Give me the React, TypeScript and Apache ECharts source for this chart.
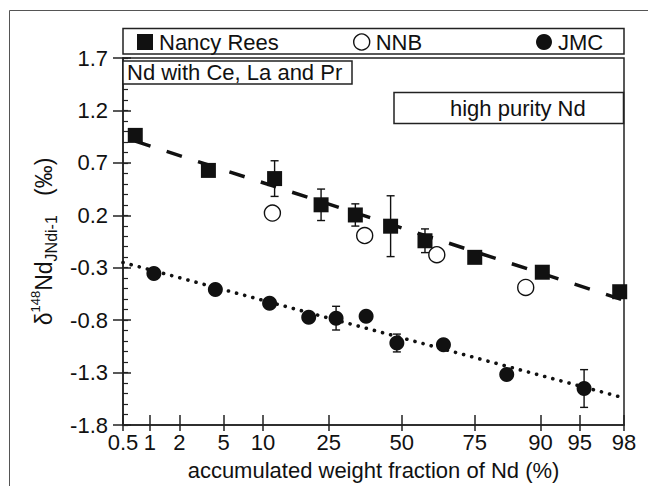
import React, { useEffect, useRef } from "react";
import * as echarts from "echarts";

// ---- data (x in % accumulated weight fraction, y in per mil) ----
const xTickLabels = ["0.5", "1", "2", "5", "10", "25", "50", "75", "90", "95", "98"];
const yTickValues = [-1.8, -1.3, -0.8, -0.3, 0.2, 0.7, 1.2, 1.7];

const nancyX = [0.69, 3.7, 12.0, 22.8, 33.4, 45.9, 58.5, 75.0, 90.3, 97.8];
const nancyY = [0.962, 0.628, 0.55, 0.3, 0.203, 0.096, -0.043, -0.201, -0.343, -0.529];
const nancyErr = [0, 0, 0.17, 0.15, 0.106, 0.29, 0.113, 0, 0, 0];

const nnbX = [11.6, 36.6, 62.7, 87.4];
const nnbY = [0.221, 0.007, -0.176, -0.488];

const jmcX = [1.1, 4.25, 11.1, 19.5, 27.2, 37.1, 48.2, 65.0, 83.4, 95.4];
const jmcY = [-0.356, -0.507, -0.639, -0.772, -0.781, -0.762, -1.018, -1.034, -1.318, -1.452];
const jmcErr = [0, 0, 0, 0, 0.113, 0, 0.085, 0, 0, 0.18];

const nancyTrendX = [0.69, 98];
const nancyTrendY = [0.907, -0.61];
const jmcTrendX = [0.5, 98];
const jmcTrendY = [-0.25, -1.542];

const FONT = "'Liberation Sans', Arial, sans-serif";
const INK = "#111";

// inverse standard normal CDF (Acklam)
function probit(p: number): number {
  const a = [-3.969683028665376e1, 2.209460984245205e2, -2.759285104469687e2, 1.38357751867269e2, -3.066479806614716e1, 2.506628277459239];
  const b = [-5.447609879822406e1, 1.615858368580409e2, -1.556989798598866e2, 6.680131188771972e1, -1.328068155288572e1];
  const c = [-7.784894002430293e-3, -3.223964580411365e-1, -2.400758277161838, -2.549732539343734, 4.374664141464968, 2.938163982698783];
  const d = [7.784695709041462e-3, 3.224671290700398e-1, 2.445134137142996, 3.754408661907416];
  const plow = 0.02425;
  if (p < plow) {
    const q = Math.sqrt(-2 * Math.log(p));
    return (((((c[0] * q + c[1]) * q + c[2]) * q + c[3]) * q + c[4]) * q + c[5]) / ((((d[0] * q + d[1]) * q + d[2]) * q + d[3]) * q + 1);
  }
  if (p <= 1 - plow) {
    const q = p - 0.5;
    const r = q * q;
    return ((((((a[0] * r + a[1]) * r + a[2]) * r + a[3]) * r + a[4]) * r + a[5]) * q) / (((((b[0] * r + b[1]) * r + b[2]) * r + b[3]) * r + b[4]) * r + 1);
  }
  const q = Math.sqrt(-2 * Math.log(1 - p));
  return -(((((c[0] * q + c[1]) * q + c[2]) * q + c[3]) * q + c[4]) * q + c[5]) / ((((d[0] * q + d[1]) * q + d[2]) * q + d[3]) * q + 1);
}
const pz = (pct: number) => probit(pct / 100);

const xTickZ = xTickLabels.map((s) => pz(parseFloat(s)));
const X_MIN = xTickZ[0];
const X_MAX = xTickZ[xTickZ.length - 1];
const yMinor: number[] = [];
for (let i = 0; i <= 35; i++) yMinor.push(Math.round((-1.8 + 0.1 * i) * 10) / 10);

function pts(xs: number[], ys: number[]) {
  return xs.map((x, i) => [pz(x), ys[i]]);
}
function errPts(xs: number[], ys: number[], es: number[]) {
  return xs.map((x, i) => [pz(x), ys[i], es[i]]).filter((d) => d[2] > 0);
}

const errRender = (params: any, api: any) => {
  const x = api.value(0);
  const y = api.value(1);
  const e = api.value(2);
  const t = api.coord([x, y + e]);
  const b = api.coord([x, y - e]);
  const hw = 4;
  const st = { stroke: INK, lineWidth: 1.4 };
  return {
    type: "group",
    children: [
      { type: "line", shape: { x1: t[0], y1: t[1], x2: b[0], y2: b[1] }, style: st },
      { type: "line", shape: { x1: t[0] - hw, y1: t[1], x2: t[0] + hw, y2: t[1] }, style: st },
      { type: "line", shape: { x1: b[0] - hw, y1: b[1], x2: b[0] + hw, y2: b[1] }, style: st },
    ],
  };
};

export default function App() {
  const ref = useRef<HTMLDivElement>(null);
  useEffect(() => {
    if (!ref.current) return;
    const chart = echarts.init(ref.current, null, { renderer: "svg" });
    const labelFor = (v: number) => {
      for (let i = 0; i < xTickZ.length; i++) if (Math.abs(xTickZ[i] - v) < 1e-6) return xTickLabels[i];
      return "";
    };
    const legendCommon = {
      top: 31,
      padding: 0,
      itemWidth: 16,
      itemHeight: 16,
      itemGap: 6,
      selectedMode: false,
      textStyle: { fontSize: 22, color: INK, fontFamily: FONT, padding: [0, 0, 0, 1] },
    };
    const tickLine = { color: "#222", width: 1.5 };
    chart.setOption({
      animation: false,
      backgroundColor: "#fff",
      grid: {
        left: 123,
        right: 24,
        top: 58,
        bottom: 58,
        show: true,
        borderColor: "#222",
        borderWidth: 1.5,
        backgroundColor: "transparent",
      },
      legend: [
        { ...legendCommon, left: 137, data: [{ name: "Nancy Rees", icon: "rect", itemStyle: { color: INK, opacity: 1 } }] },
        {
          ...legendCommon,
          left: 353,
          data: [{ name: "NNB", icon: "circle", itemStyle: { color: "#fff", borderColor: INK, borderWidth: 1.4, opacity: 1 } }],
        },
        { ...legendCommon, left: 536, data: [{ name: "JMC", icon: "circle", itemStyle: { color: INK, opacity: 1 } }] },
      ],
      xAxis: [
        {
          type: "value",
          min: X_MIN,
          max: X_MAX,
          position: "bottom",
          axisLine: { show: true, onZero: false, lineStyle: { color: "#222", width: 1.5 } },
          axisTick: { show: true, inside: false, length: 6, customValues: xTickZ, lineStyle: tickLine },
          axisLabel: {
            show: true,
            customValues: xTickZ,
            formatter: (v: number) => labelFor(v),
            fontSize: 22,
            color: INK,
            fontFamily: FONT,
            margin: 6,
          },
          splitLine: { show: false },
          name: "accumulated weight fraction of Nd (%)",
          nameLocation: "middle",
          nameGap: 34,
          nameTextStyle: { fontSize: 22, color: INK, fontFamily: FONT },
        },
        {
          type: "value",
          min: X_MIN,
          max: X_MAX,
          position: "bottom",
          axisLine: { show: false, onZero: false },
          axisTick: { show: true, inside: true, length: 10, customValues: xTickZ, lineStyle: tickLine },
          axisLabel: { show: false },
          splitLine: { show: false },
        },
      ],
      yAxis: [
        {
          type: "value",
          min: -1.8,
          max: 1.7,
          position: "left",
          axisLine: { show: true, onZero: false, lineStyle: { color: "#222", width: 1.5 } },
          axisTick: { show: true, inside: false, length: 10, customValues: yTickValues, lineStyle: tickLine },
          axisLabel: {
            show: true,
            customValues: yTickValues,
            formatter: (v: number) => v.toFixed(1),
            fontSize: 22,
            color: INK,
            fontFamily: FONT,
            margin: 15,
          },
          splitLine: { show: false },
          name: "{m|δ}{sup|148}{m|Nd}{sub|JNdi-1}{m|   (‰)}",
          nameLocation: "middle",
          nameGap: 58,
          nameTextStyle: {
            fontFamily: FONT,
            color: INK,
            rich: {
              m: { fontSize: 23, lineHeight: 30, verticalAlign: "middle", fontFamily: FONT, color: INK },
              sup: { fontSize: 13, lineHeight: 14, verticalAlign: "top", fontFamily: FONT, color: INK },
              sub: { fontSize: 16, lineHeight: 16, verticalAlign: "bottom", fontFamily: FONT, color: INK },
            },
          },
        },
        {
          type: "value",
          min: -1.8,
          max: 1.7,
          position: "left",
          offset: 0,
          axisLine: { show: false, onZero: false },
          axisTick: { show: true, inside: true, length: 8, customValues: yTickValues, lineStyle: tickLine },
          axisLabel: { show: false },
          splitLine: { show: false },
        },
        {
          type: "value",
          min: -1.8,
          max: 1.7,
          position: "left",
          offset: 0,
          axisLine: { show: false, onZero: false },
          axisTick: { show: true, inside: true, length: 5, customValues: yMinor, lineStyle: { color: "#222", width: 1.2 } },
          axisLabel: { show: false },
          splitLine: { show: false },
        },
      ],
      graphic: [
        {
          type: "rect",
          shape: { x: 9.5, y: 10.5, width: 800, height: 800 },
          style: { fill: "none", stroke: "#555", lineWidth: 1 },
          silent: true,
        },
        {
          type: "rect",
          shape: { x: 123, y: 28.5, width: 501, height: 25.5 },
          style: { fill: "none", stroke: "#222", lineWidth: 1.5 },
          silent: true,
        },
        {
          type: "rect",
          shape: { x: 123, y: 61, width: 229, height: 23 },
          style: { fill: "#fff", stroke: "#222", lineWidth: 1.5 },
          silent: true,
          z: 10,
        },
        {
          type: "text",
          x: 127,
          y: 72.5,
          style: { text: "Nd with Ce, La and Pr", fontSize: 22, fontFamily: FONT, fill: INK, verticalAlign: "middle" },
          silent: true,
          z: 11,
        },
        {
          type: "rect",
          shape: { x: 394, y: 92.5, width: 229.5, height: 31 },
          style: { fill: "#fff", stroke: "#222", lineWidth: 1.5 },
          silent: true,
          z: 10,
        },
        {
          type: "text",
          x: 450,
          y: 108,
          style: { text: "high purity Nd", fontSize: 22, fontFamily: FONT, fill: INK, verticalAlign: "middle" },
          silent: true,
          z: 11,
        },
      ],
      series: [
        {
          name: "nancyTrend",
          type: "line",
          data: pts(nancyTrendX, nancyTrendY),
          showSymbol: false,
          symbol: "none",
          silent: true,
          z: 1,
          lineStyle: { color: INK, width: 3.5, type: [16, 17] },
        },
        {
          name: "jmcTrend",
          type: "line",
          data: pts(jmcTrendX, jmcTrendY),
          showSymbol: false,
          symbol: "none",
          silent: true,
          z: 1,
          lineStyle: { color: INK, width: 3.6, type: [0.1, 8.3], cap: "round" },
        },
        { name: "nancyErr", type: "custom", renderItem: errRender, data: errPts(nancyX, nancyY, nancyErr), z: 2, silent: true },
        { name: "jmcErr", type: "custom", renderItem: errRender, data: errPts(jmcX, jmcY, jmcErr), z: 2, silent: true },
        {
          name: "Nancy Rees",
          type: "scatter",
          data: pts(nancyX, nancyY),
          symbol: "rect",
          symbolSize: 15,
          itemStyle: { color: INK, opacity: 1 },
          z: 5,
        },
        {
          name: "NNB",
          type: "scatter",
          data: pts(nnbX, nnbY),
          symbol: "circle",
          symbolSize: 16,
          itemStyle: { color: "#fff", borderColor: INK, borderWidth: 1.4, opacity: 1 },
          z: 5,
        },
        {
          name: "JMC",
          type: "scatter",
          data: pts(jmcX, jmcY),
          symbol: "circle",
          symbolSize: 15,
          itemStyle: { color: INK, opacity: 1 },
          z: 5,
        },
      ],
    });
    return () => chart.dispose();
  }, []);
  return (
    <div
      ref={ref}
      style={{ position: "fixed", left: 0, top: 0, width: 648, height: 486, background: "#fff" }}
    />
  );
}
